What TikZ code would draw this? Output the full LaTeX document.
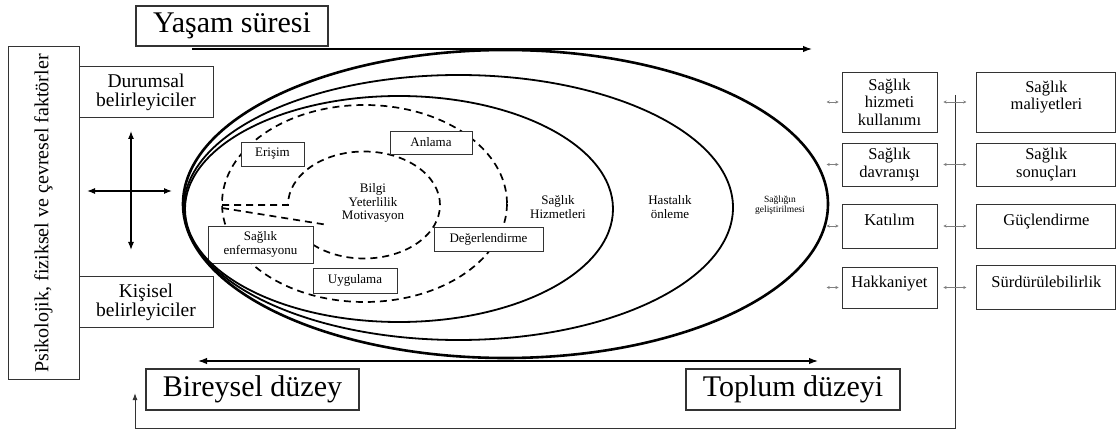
\documentclass[tikz,border=0pt]{standalone}
\usepackage{fontspec}
\setmainfont{Liberation Serif}
\usepackage{tikz}
\usetikzlibrary{arrows.meta,positioning}
\newcommand{\fsz}[2]{\fontsize{#1}{#2}\selectfont}
\tikzset{>={Latex[length=9pt,width=6.5pt]},
         tinyarr/.style={{Stealth[length=3.2pt,width=3.2pt]}-{Stealth[length=3.2pt,width=3.2pt]},
                         gray, line width=0.6pt}}
\tikzstyle{bigbox}=[draw=black!80, line width=1.1pt, fill=white, inner sep=0pt,
   font=\fsz{30}{30}]
\tikzstyle{sidebox}=[draw=black!80, line width=1pt, fill=white, inner sep=0pt,
   align=center, font=\fsz{19.5}{19}]
\tikzstyle{rbox}=[draw=black!80, line width=0.9pt, fill=white, inner sep=0pt,
   align=center, minimum width=95pt, font=\fsz{16.5}{17.5}]
\tikzstyle{wbox}=[rbox, minimum width=139pt]
\tikzstyle{tag}=[draw=black!80, line width=0.9pt, fill=white, inner sep=0pt,
   align=center, font=\fsz{13}{13.5}]
\tikzstyle{plain}=[align=center, inner sep=0pt, font=\fsz{13}{13.5}]
\tikzstyle{ring}=[line width=1.8pt]
\tikzstyle{dashring}=[line width=1.7pt, dash pattern=on 7pt off 5pt]

\begin{document}
\begin{tikzpicture}[x=1pt,y=-1pt]
  \useasboundingbox (0,0) rectangle (1117,430);
  % dashed rings
  \draw[dashring] (364.5,203.5) ellipse [x radius=142.5pt, y radius=98.5pt];
  \draw[dashring] (222,205) -- (288,205)
     arc [start angle=180, end angle=-135, x radius=76pt, y radius=53.5pt];
  \draw[dashring] (222,208) -- (328,225);
  \node[tag, minimum width=63pt, minimum height=24pt] (erisim) at (272.5,154) {Erişim};
  \node[tag, minimum width=82pt, minimum height=23pt] (anlama) at (431,142.5) {Anlama};
  \node[tag, minimum width=105pt, minimum height=37pt] (enfo) at (260.5,244.5) {Sağlık\\enfermasyonu};
  \node[tag, minimum width=109pt, minimum height=24pt] (deger) at (488.5,239) {Değerlendirme};
  \node[tag, minimum width=84pt, minimum height=25pt] (uygula) at (355,280.5) {Uygulama};
  \node[plain] (bilgi) at (373,203) {Bilgi\\Yeterlilik\\Motivasyon};
  % solid rings
  \draw[ring] (399,209) ellipse [x radius=214pt, y radius=113pt];
  \draw[ring] (458.5,207.5) ellipse [x radius=274.5pt, y radius=132.5pt];
  \draw[ring, line width=2.6pt] (505.5,204) ellipse [x radius=322.5pt, y radius=154pt];
  \node[plain] (hizmetler) at (558,207) {Sağlık\\Hizmetleri};
  \node[plain] (onleme) at (670,207) {Hastalık\\önleme};
  \node[plain, font=\fsz{9.5}{10}] (gelistirme) at (780,205) {Sağlığın\\geliştirilmesi};

  % top and left
  \node[bigbox, minimum width=192pt, minimum height=40pt] (yasam) at (232,26) {Yaşam süresi};
  \coordinate (omurbas) at (192,49);
  \coordinate (omurson) at (812,49);
  \draw[->, line width=1.3pt] (omurbas) -- (omurson);
  \node[sidebox, rotate=90, minimum width=333pt, minimum height=71pt, font=\fsz{20}{20}]
     (faktor) at (43.5,213.5) {Psikolojik, fiziksel ve çevresel faktörler};
  \node[sidebox, minimum width=134pt, minimum height=51pt] (durumsal) at (146,92.5) {Durumsal\\belirleyiciler};
  \node[sidebox, minimum width=134pt, minimum height=51pt] (kisisel) at (146,302.5) {Kişisel\\belirleyiciler};
  \coordinate (ust) at (131,131);
  \coordinate (alt) at (131,250);
  \coordinate (sol) at (87,191);
  \coordinate (sag) at (172,191);
  \draw[<->, line width=1.1pt, >={Latex[length=8pt,width=6pt]}] (ust) -- (alt);
  \draw[<->, line width=1.1pt, >={Latex[length=8pt,width=6pt]}] (sol) -- (sag);

  % bottom
  \coordinate (duzeysol) at (198,361);
  \coordinate (duzeysag) at (818,361);
  \draw[<->, line width=1.3pt] (duzeysol) -- (duzeysag);
  \node[bigbox, minimum width=213pt, minimum height=41pt] (bireysel) at (252.5,389.5) {Bireysel düzey};
  \node[bigbox, minimum width=214pt, minimum height=41pt] (toplum) at (793,389.5) {Toplum düzeyi};

  % right columns
  \node[rbox, minimum height=60pt] (kullanim) at (889.5,102) {Sağlık\\hizmeti\\kullanımı};
  \node[rbox, minimum height=43pt] (davranis) at (889.5,164.5) {Sağlık\\davranışı};
  \node[rbox, minimum height=44pt, text depth=12pt] (katilim) at (889.5,226) {Katılım};
  \node[rbox, minimum height=41pt, text depth=11pt] (hakkaniyet) at (889.5,287.5) {Hakkaniyet};
  \node[wbox, minimum height=60pt, text depth=13pt, right=39pt of kullanim] (maliyet) {Sağlık\\maliyetleri};
  \node[wbox, minimum height=43pt, right=39pt of davranis] (sonuc) {Sağlık\\sonuçları};
  \node[wbox, minimum height=44pt, text depth=12pt, right=39pt of katilim] (guc) {Güçlendirme};
  \node[wbox, minimum height=44pt, text depth=12pt, right=39pt of hakkaniyet] (surdur) {Sürdürülebilirlik};
  \coordinate (donus) at (955,95);
  \coordinate (kose) at (135,428);
  \coordinate (donusson) at (135,393);
  \draw[->, line width=1pt, black!80, >={Latex[length=7pt,width=5pt]}] (donus) |- (kose) -- (donusson);
  \foreach \k/\w in {kullanim/maliyet, davranis/sonuc, katilim/guc, hakkaniyet/surdur}{
    \draw[tinyarr] (\k.west) ++(-15,0) -- ++(12,0);
    \draw[tinyarr, shorten <=6pt, shorten >=10pt] (\k.east) -- (\k.east -| \w.west);
  }
\end{tikzpicture}
\end{document}
